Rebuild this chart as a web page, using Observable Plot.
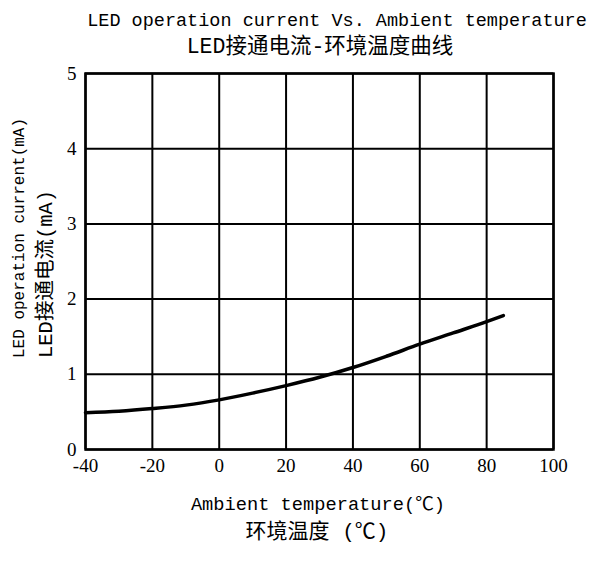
<!DOCTYPE html>
<html>
<head>
<meta charset="utf-8">
<script src="https://cdn.jsdelivr.net/npm/d3@7"></script>
<script src="https://cdn.jsdelivr.net/npm/@observablehq/plot@0.6"></script>
<style>
  html, body { margin: 0; padding: 0; background: #fff; }
  #chart { width: 595px; height: 563px; }
</style>
</head>
<body>
<div id="chart"></div>
<script>
const temperatures = [-40, -30, -20, -10, 0, 10, 20, 30, 40, 50, 60, 70, 80, 85];
const currents = [0.49, 0.51, 0.545, 0.59, 0.66, 0.75, 0.85, 0.96, 1.09, 1.24, 1.40, 1.55, 1.70, 1.78];
const xTicks = [-40, -20, 0, 20, 40, 60, 80, 100];
const yTicks = [0, 1, 2, 3, 4, 5];
const titleLines = ["LED operation current Vs. Ambient temperature", "LED接通电流-环境温度曲线"];
const xLabelLines = ["Ambient temperature(℃)", "环境温度 (℃)"];
const yLabelLines = ["LED operation current(mA)", "LED接通电流(mA)"];

const data = temperatures.map((t, i) => ({t, c: currents[i]}));
const monoFont = "'Liberation Mono', 'Noto Sans CJK SC', monospace";
const serifFont = "'Liberation Serif', 'DejaVu Serif', serif";

const chart = Plot.plot({
  width: 595,
  height: 563,
  marginLeft: 85,
  marginRight: 42,
  marginTop: 73,
  marginBottom: 114,
  style: {background: "#fff", color: "#000", fontFamily: serifFont},
  x: {domain: [-40, 100], label: null},
  y: {domain: [0, 5], label: null},
  marks: [
    Plot.gridX(xTicks, {stroke: "#000", strokeOpacity: 1, strokeWidth: 2}),
    Plot.gridY(yTicks, {stroke: "#000", strokeOpacity: 1, strokeWidth: 2}),
    Plot.frame({stroke: "#000", strokeWidth: 2.5}),
    Plot.axisX(xTicks, {tickSize: 0, tickPadding: 9, fontSize: 19, tickFormat: d => String(d), fontFamily: serifFont}),
    Plot.axisY(yTicks, {tickSize: 0, tickPadding: 9, fontSize: 19, tickFormat: d => String(d), fontFamily: serifFont}),
    Plot.line(data, {x: "t", y: "c", curve: "monotone-x", stroke: "#000", strokeWidth: 3.5})
  ]
});
document.getElementById("chart").appendChild(chart);

const svg = d3.select(chart);
const addText = (txt, x, y, size, anchor) => svg.append("text")
    .attr("x", x).attr("y", y)
    .attr("text-anchor", anchor)
    .attr("dominant-baseline", "middle")
    .style("font-family", monoFont)
    .style("font-size", size + "px")
    .attr("fill", "#000")
    .text(txt);
addText(titleLines[0], 337, 21, 18.5, "middle");
addText(titleLines[1], 320, 47, 21.5, "middle");
addText(xLabelLines[0], 318, 505, 18.7, "middle");
addText(xLabelLines[1], 317, 532, 21, "middle");
svg.append("g").attr("transform", "translate(20,358) rotate(-90)")
  .call(g => g.append("text").attr("x", 0).attr("y", 0).attr("text-anchor", "start")
    .attr("dominant-baseline", "middle").style("font-family", monoFont).style("font-size", "16px").text(yLabelLines[0]));
svg.append("g").attr("transform", "translate(47,358) rotate(-90)")
  .call(g => g.append("text").attr("x", 0).attr("y", 0).attr("text-anchor", "start")
    .attr("dominant-baseline", "middle").style("font-family", monoFont).style("font-size", "20.5px").text(yLabelLines[1]));
</script>
</body>
</html>
